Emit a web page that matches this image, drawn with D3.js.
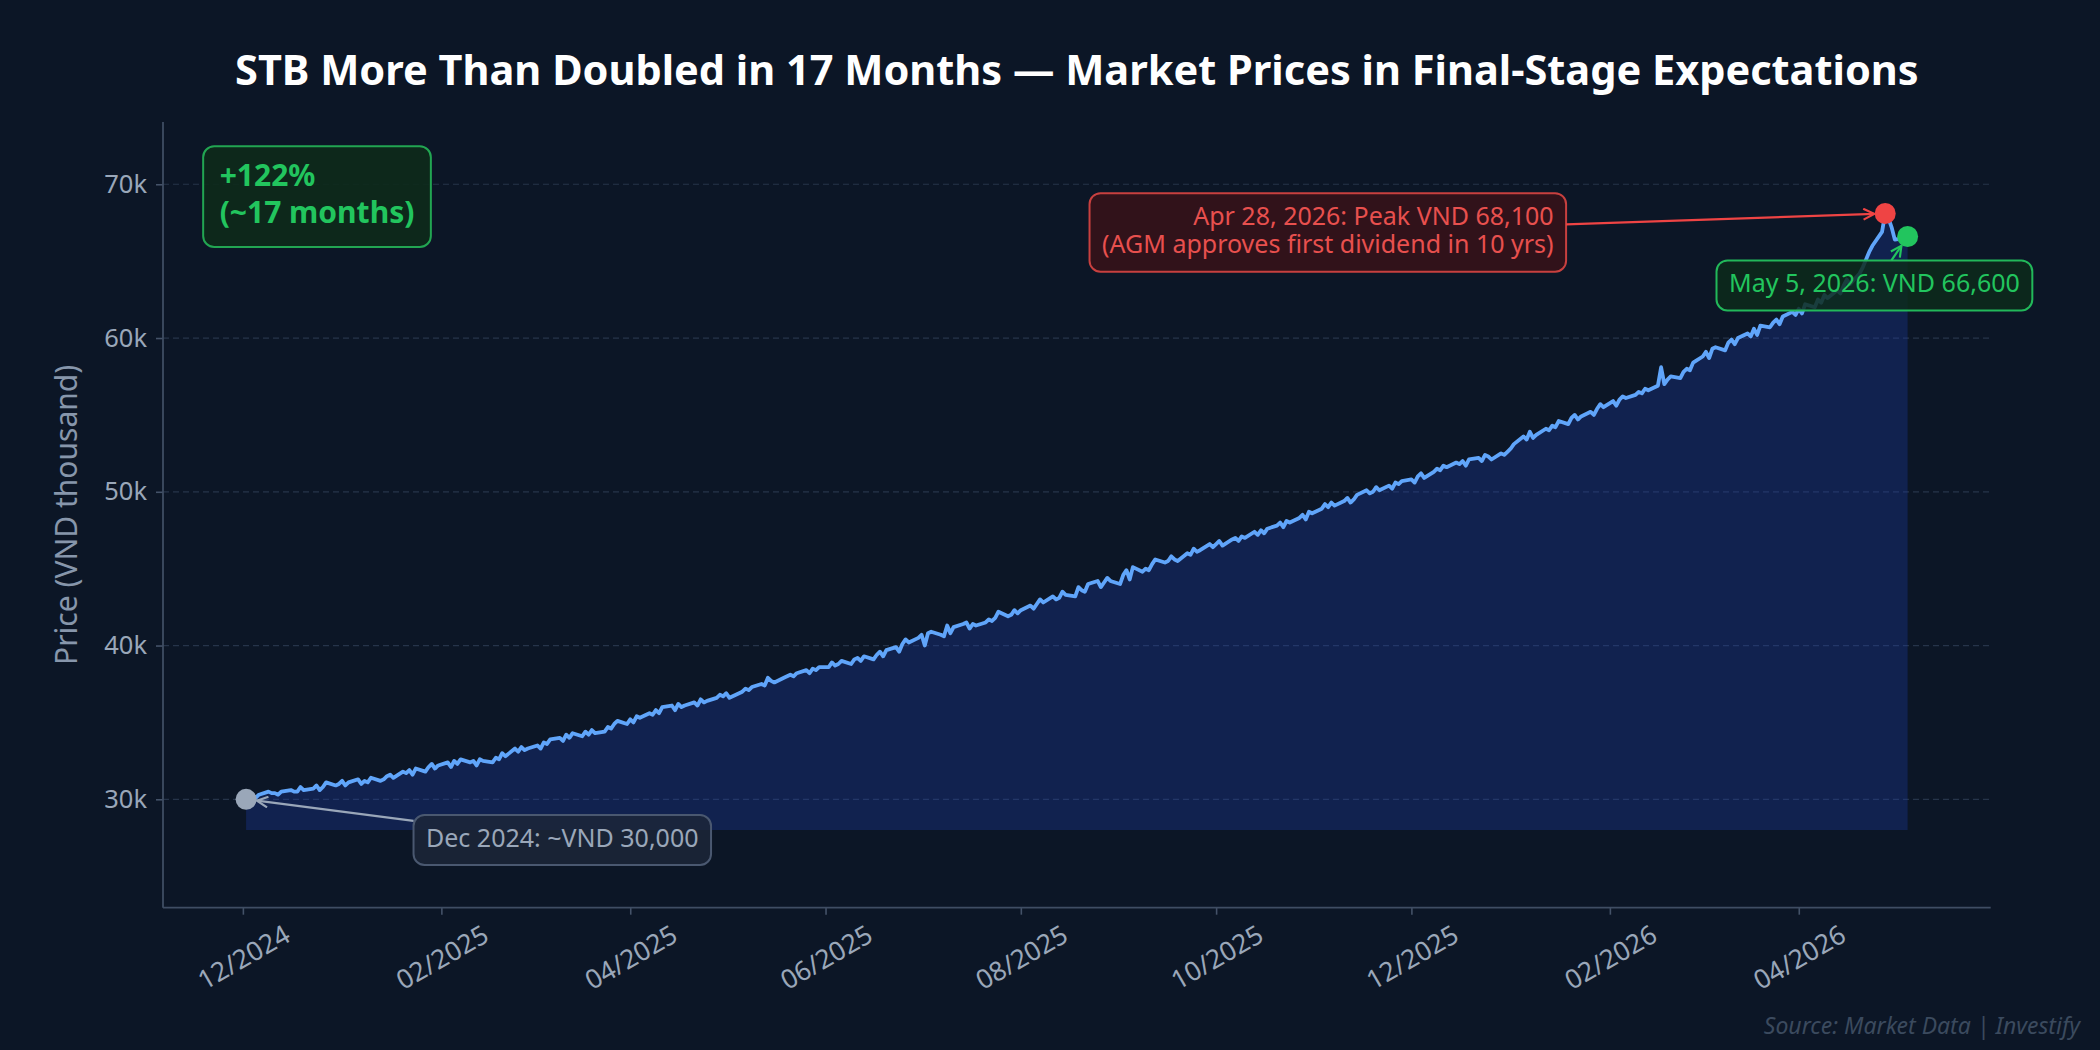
<!DOCTYPE html>
<html>
<head>
<meta charset="utf-8">
<script src="https://cdn.jsdelivr.net/npm/d3@7"></script>
<style>
  html, body { margin: 0; padding: 0; background: #0c1626; }
  svg { display: block; font-family: "Noto Sans", "Open Sans", sans-serif; }
</style>
</head>
<body>
<div id="chart"></div>
<script>
// ==========================================
// 1. DATA
// ==========================================
const chartTitle = "STB More Than Doubled in 17 Months \u2014 Market Prices in Final-Stage Expectations";
const yLabel = "Price (VND thousand)";
const sourceText = "Source: Market Data | Investify";

const firstSession = new Date(2024, 11, 2);
const lastSession = new Date(2026, 4, 5);

// closing price, VND thousand, one value per trading day (Mon-Fri)
const prices = [
  // 12/2024
  30.0,30.1,30.2,30.1,30.3,30.5,30.4,30.4,30.3,30.5,30.6,30.5,30.5,30.8,30.6,30.7,30.9,30.6,30.8,31.1,30.9,31.0,
  // 01/2025
  31.2,30.9,31.1,31.3,31.0,31.2,31.1,31.4,31.2,31.3,31.5,31.6,31.4,31.8,31.7,31.9,31.6,32.0,31.8,32.1,32.3,32.0,32.2,
  // 02/2025
  32.4,32.1,32.5,32.3,32.6,32.4,32.5,32.2,32.6,32.5,32.4,32.7,32.6,33.0,32.8,33.3,33.1,33.4,33.2,33.3,
  // 03/2025
  33.5,33.3,33.7,33.6,33.9,34.0,33.8,34.2,34.0,34.3,34.1,34.4,34.2,34.5,34.3,34.4,34.7,34.6,34.9,35.1,34.9,
  // 04/2025
  35.2,35.0,35.4,35.3,35.6,35.5,35.8,35.6,36.0,36.1,35.8,36.2,36.0,36.1,36.3,36.1,36.5,36.3,36.4,36.6,36.8,36.7,
  // 05/2025
  36.9,36.6,36.9,37.0,37.2,37.1,37.3,37.5,37.4,37.9,37.7,37.6,37.9,38.0,38.1,38.0,38.2,38.4,38.2,38.5,38.4,38.6,
  // 06/2025
  38.6,38.9,38.7,38.8,39.0,38.8,39.1,39.2,39.0,39.3,39.1,39.4,39.6,39.3,39.7,39.9,39.6,40.1,40.4,40.2,40.5,
  // 07/2025
  40.7,40.0,40.8,40.9,40.7,40.6,41.3,40.8,41.2,41.4,41.5,41.1,41.4,41.3,41.5,41.7,41.6,41.8,42.2,41.9,42.0,42.3,42.1,
  // 08/2025
  42.3,42.6,42.4,42.7,43.0,42.8,43.2,43.0,43.1,43.5,43.3,43.2,43.8,43.6,43.5,44.0,44.2,43.8,44.1,44.4,44.2,
  // 09/2025
  44.0,44.6,44.9,44.3,45.1,44.8,45.0,44.9,45.3,45.6,45.4,45.5,45.8,45.6,45.5,46.0,45.9,46.3,46.1,46.2,46.6,46.4,
  // 10/2025
  46.6,46.8,46.5,46.9,47.0,46.8,47.1,47.0,47.4,47.2,47.5,47.3,47.6,47.8,48.0,47.7,48.1,48.0,48.3,48.5,48.2,48.7,48.6,
  // 11/2025
  48.9,49.2,49.0,49.3,49.1,49.4,49.6,49.3,49.5,49.8,50.1,49.9,50.0,50.3,50.1,50.4,50.2,50.6,50.5,50.7,
  // 12/2025
  50.8,50.6,51.0,51.2,50.9,51.3,51.5,51.4,51.7,51.6,51.9,51.8,52.0,51.7,52.1,52.2,52.0,52.4,52.3,52.1,52.5,52.4,52.6,
  // 01/2026
  52.8,53.1,53.6,53.4,53.9,53.5,53.7,54.1,54.0,54.3,54.2,54.6,54.4,54.8,55.0,54.7,54.9,55.2,55.0,55.4,55.7,55.5,
  // 02/2026
  55.9,55.6,56.0,56.2,56.1,56.3,56.5,56.4,56.7,56.6,56.9,58.1,57.0,57.3,57.5,57.4,57.8,58.0,57.9,58.4,
  // 03/2026
  58.8,59.1,58.7,59.3,59.4,59.2,59.7,59.9,59.6,60.0,60.3,60.1,60.6,60.2,60.8,60.7,61.0,61.2,60.9,61.4,61.7,61.5,
  // 04/2026
  61.9,61.6,62.2,62.0,62.5,62.3,62.8,62.6,63.1,62.9,63.4,63.8,63.5,64.2,64.6,65.1,65.6,66.0,66.9,68.1,67.8,67.2,
  // 05/2026
  66.4,66.5,66.6
];

const yTicks = [30, 40, 50, 60, 70];
const yDomain = [22.95, 74.05];
const fillBase = 28;
const xTickMonths = ["2024-12", "2025-02", "2025-04", "2025-06", "2025-08",
                     "2025-10", "2025-12", "2026-02", "2026-04"];

const startNote = ["Dec 2024: ~VND 30,000"];
const peakNote = ["Apr 28, 2026: Peak VND 68,100", "(AGM approves first dividend in 10 yrs)"];
const lastNote = ["May 5, 2026: VND 66,600"];
const growthNote = ["+122%", "(~17 months)"];

// ==========================================
// 2. SETUP
// ==========================================
const W = 2100, H = 1050;
const plot = { left: 163, right: 1990.7, top: 122, bottom: 907.7 };

const sessions = d3.timeDay.range(firstSession, d3.timeDay.offset(lastSession, 1))
  .filter(d => d.getDay() !== 0 && d.getDay() !== 6);
const series = prices.map((v, i) => ({ date: sessions[i], value: v }));

const svg = d3.select("#chart").append("svg")
  .attr("width", W).attr("height", H);
svg.append("rect").attr("width", W).attr("height", H).attr("fill", "#0c1626");

// matplotlib-like 5% margin on the dates
const span = lastSession - firstSession;
const x = d3.scaleTime()
  .domain([new Date(+firstSession - span * 0.05), new Date(+lastSession + span * 0.05)])
  .range([plot.left, plot.right]);
const y = d3.scaleLinear().domain(yDomain).range([plot.bottom, plot.top]);

const defs = svg.append("defs");
function chevron(id, color) {
  defs.append("marker")
    .attr("id", id).attr("viewBox", "0 0 12 12")
    .attr("refX", 11).attr("refY", 6)
    .attr("markerWidth", 13).attr("markerHeight", 13)
    .attr("markerUnits", "userSpaceOnUse")
    .attr("orient", "auto")
    .append("path").attr("d", "M1,1 L11,6 L1,11")
    .attr("fill", "none").attr("stroke", color).attr("stroke-width", 2);
}
chevron("arr-grey", "#9aa7b9");
chevron("arr-red", "#ef4444");
chevron("arr-green", "#22c55e");

// ==========================================
// 3. GRID, AREA, LINE
// ==========================================
svg.append("g").selectAll("line").data(yTicks).enter().append("line")
  .attr("x1", plot.left).attr("x2", plot.right)
  .attr("y1", d => y(d)).attr("y2", d => y(d))
  .attr("stroke", "#26344a").attr("stroke-width", 1.2)
  .attr("stroke-dasharray", "6,4");

svg.append("path").datum(series)
  .attr("d", d3.area().x(d => x(d.date)).y0(y(fillBase)).y1(d => y(d.value)))
  .attr("fill", "#1e40af").attr("fill-opacity", 0.3);

svg.append("path").datum(series)
  .attr("d", d3.line().x(d => x(d.date)).y(d => y(d.value)))
  .attr("fill", "none").attr("stroke", "#60a5fa")
  .attr("stroke-width", 3.8).attr("stroke-linejoin", "round");

// ==========================================
// 4. AXES
// ==========================================
const yAxis = svg.append("g").attr("transform", `translate(${plot.left},0)`)
  .call(d3.axisLeft(y).tickValues(yTicks).tickFormat(d => d + "k").tickSize(7).tickPadding(9));
const xAxis = svg.append("g").attr("transform", `translate(0,${plot.bottom})`)
  .call(d3.axisBottom(x).tickValues(xTickMonths.map(d3.timeParse("%Y-%m")))
    .tickFormat(d3.timeFormat("%m/%Y")).tickSize(7));

[yAxis, xAxis].forEach(g => {
  g.select(".domain").remove();
  g.selectAll(".tick line").attr("stroke", "#445268").attr("stroke-width", 1.6);
  g.selectAll(".tick text").attr("fill", "#9aa7b9").attr("font-size", 25.5)
    .attr("font-family", "Noto Sans, Open Sans, sans-serif");
});
xAxis.selectAll(".tick text")
  .attr("font-size", 26.5)
  .attr("y", null).attr("dy", null)
  .attr("text-anchor", "middle").attr("dominant-baseline", "central")
  .attr("transform", "translate(0,49) rotate(-30)");

// spines
svg.append("line").attr("x1", plot.left).attr("x2", plot.left)
  .attr("y1", plot.top).attr("y2", plot.bottom)
  .attr("stroke", "#3f4d63").attr("stroke-width", 1.8);
svg.append("line").attr("x1", plot.left).attr("x2", plot.right)
  .attr("y1", plot.bottom).attr("y2", plot.bottom)
  .attr("stroke", "#3f4d63").attr("stroke-width", 1.8);

svg.append("text")
  .attr("transform", `translate(77,${(plot.top + plot.bottom) / 2}) rotate(-90)`)
  .attr("text-anchor", "middle").attr("font-size", 30).attr("fill", "#8796ab")
  .text(yLabel);

svg.append("text")
  .attr("x", (plot.left + plot.right) / 2).attr("y", 85)
  .attr("text-anchor", "middle").attr("font-size", 41.5).attr("font-weight", 700)
  .attr("fill", "#ffffff").text(chartTitle);

svg.append("text")
  .attr("x", 2080).attr("y", 1034).attr("text-anchor", "end")
  .attr("font-size", 23).attr("font-style", "italic").attr("fill", "#3b4a5e")
  .text(sourceText);

// ==========================================
// 5. ANNOTATIONS
// ==========================================
// draws a rounded label box; (ax, cy) = text anchor x and vertical centre
function drawNote(lines, ax, cy, align, opt) {
  const fs = opt.size, lh = fs * (opt.lineGap || 1.2), pad = opt.pad;
  const g = svg.append("g");
  const rect = g.append("rect");
  const blockH = fs + (lines.length - 1) * lh;
  const firstBase = cy - blockH / 2 + 0.76 * fs;
  const texts = lines.map((t, i) => g.append("text")
    .attr("x", ax).attr("y", firstBase + i * lh)
    .attr("text-anchor", align).attr("font-size", fs)
    .attr("font-weight", opt.weight || 400).attr("fill", opt.color).text(t));
  const w = d3.max(texts, t => t.node().getComputedTextLength());
  const left = align === "end" ? ax - w : ax;
  const box = { x0: left - pad, x1: left + w + pad, y0: cy - blockH / 2 - pad, y1: cy + blockH / 2 + pad };
  rect.attr("x", box.x0).attr("y", box.y0)
    .attr("width", box.x1 - box.x0).attr("height", box.y1 - box.y0)
    .attr("rx", 11).attr("fill", opt.bg).attr("fill-opacity", opt.bgOpacity)
    .attr("stroke", opt.border).attr("stroke-width", 2);
  return box;
}

// arrow from box edge (along centre->target line) to the target, stopping short of the dot
function drawArrow(box, tx, ty, color, marker, shrink) {
  const cx = (box.x0 + box.x1) / 2, cy = (box.y0 + box.y1) / 2;
  const dx = tx - cx, dy = ty - cy;
  const tEdge = Math.min(
    dx !== 0 ? ((dx > 0 ? box.x1 : box.x0) - cx) / dx : Infinity,
    dy !== 0 ? ((dy > 0 ? box.y1 : box.y0) - cy) / dy : Infinity);
  const len = Math.hypot(dx, dy);
  const sx = cx + dx * tEdge, sy = cy + dy * tEdge;
  const ex = tx - dx / len * shrink, ey = ty - dy / len * shrink;
  svg.append("line").attr("x1", sx).attr("y1", sy).attr("x2", ex).attr("y2", ey)
    .attr("stroke", color).attr("stroke-width", 2.2)
    .attr("marker-end", `url(#${marker})`);
}

const first = series[0];
const peak = d3.greatest(series, d => d.value);
const last = series[series.length - 1];

const dots = [
  { d: first, color: "#9aa7b9" },
  { d: peak, color: "#ef4444" },
  { d: last, color: "#22c55e" }
];

// growth badge, placed in axes fraction
drawNote(growthNote,
  plot.left + 0.031 * (plot.right - plot.left),
  plot.bottom - 0.905 * (plot.bottom - plot.top), "start",
  { size: 30, weight: 700, pad: 16.5, lineGap: 1.26, color: "#22c55e", bg: "#0d2a1b", bgOpacity: 0.9, border: "#22a552" });

const startBox = drawNote(startNote, x(new Date(2025, 0, 27, 5)), y(27.35), "start",
  { size: 25, pad: 12.5, color: "#9aa7b9", bg: "#1c2638", bgOpacity: 0.85, border: "#4a5870" });
drawArrow(startBox, x(first.date), y(first.value), "#9aa7b9", "arr-grey", 11);

const peakBox = drawNote(peakNote, x(new Date(2026, 0, 14, 10)), y(66.87), "end",
  { size: 25, pad: 12.5, lineGap: 1.14, color: "#e8504e", bg: "#35121a", bgOpacity: 0.9, border: "#c8403f" });
drawArrow(peakBox, x(peak.date), y(peak.value), "#ef4444", "arr-red", 11);

const lastBox = drawNote(lastNote, x(new Date(2026, 2, 10, 5)), y(63.42), "start",
  { size: 25, pad: 12.5, color: "#22c55e", bg: "#0d2a1b", bgOpacity: 0.85, border: "#22b85a" });
drawArrow(lastBox, x(last.date), y(last.value), "#22c55e", "arr-green", 11);

svg.append("g").selectAll("circle").data(dots).enter().append("circle")
  .attr("cx", p => x(p.d.date)).attr("cy", p => y(p.d.value))
  .attr("r", 10.5).attr("fill", p => p.color);
</script>
</body>
</html>
